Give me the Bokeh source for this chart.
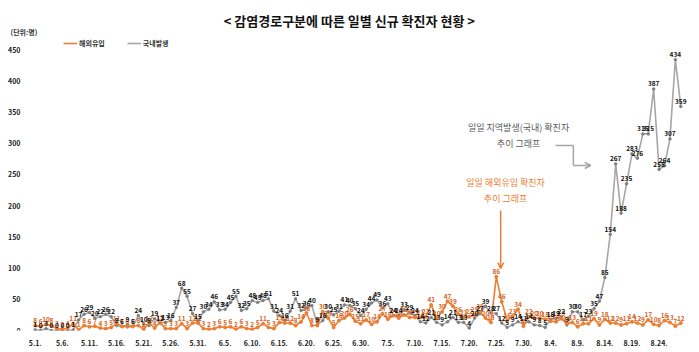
from bokeh.plotting import figure
from bokeh.models import (Range1d, FixedTicker, Label, Arrow, OpenHead, Legend,
                          LegendItem, ColumnDataSource)
from bokeh.core.properties import value
from bokeh.embed import file_html
from bokeh.resources import INLINE

# ---------------- data ----------------
# one value per day, 5.1. .. 8.28.
domestic = [
    # May
    1, 0, 3, 0, 0, 0, 0, 1, 17, 26, 29, 20, 22, 26, 22, 8, 6, 9, 6, 24,
    10, 8, 19, 12, 13, 16, 37, 68, 55, 27, 15,
    # June
    30, 34, 46, 33, 34, 45, 55, 32, 35, 48, 45, 48, 51, 31, 24, 16, 31, 51, 32, 36,
    40, 9, 16, 30, 25, 31, 41, 40, 35, 24,
    # July
    34, 44, 49, 36, 43, 24, 24, 33, 29, 24, 14, 12, 21, 13, 9, 14, 21, 13, 13, 4,
    20, 27, 39, 28, 27, 12, 5, 9, 14, 11, 14,
    # August
    9, 8, 5, 18, 19, 22, 9, 30, 30, 17, 23, 35, 47, 85, 154, 267, 188, 235, 283, 276,
    315, 315, 387, 258, 264, 307, 434, 359,
]
imported = [
    # May
    8, 6, 10, 8, 3, 2, 4, 11, 1, 8, 6, 7, 4, 3, 5, 11, 7, 6, 7, 8,
    2, 12, 4, 13, 3, 3, 3, 11, 3, 12, 12,
    # June
    3, 2, 3, 6, 5, 6, 2, 6, 3, 2, 5, 11, 5, 3, 13, 12, 12, 8, 14, 28,
    8, 8, 30, 20, 5, 16, 20, 26, 15, 11,
    # July
    17, 10, 14, 27, 18, 24, 20, 25, 21, 21, 21, 22, 41, 20, 30, 47, 39, 26, 21, 22,
    25, 30, 20, 13, 86, 46, 16, 23, 34, 7, 22,
    # August
    20, 20, 18, 15, 14, 19, 11, 13, 6, 11, 11, 19, 9, 18, 12, 12, 9, 11, 14, 12,
    9, 17, 10, 8, 16, 13, 7, 12,
]
day_index = list(range(len(domestic)))
tick_positions = list(range(0, 120, 5))
tick_labels = ["5.1.", "5.6.", "5.11.", "5.16.", "5.21.", "5.26.", "5.31.",
               "6.5.", "6.10.", "6.15.", "6.20.", "6.25.", "6.30.",
               "7.5.", "7.10.", "7.15.", "7.20.", "7.25.", "7.30.",
               "8.4.", "8.9.", "8.14.", "8.19.", "8.24."]
y_ticks = [0, 50, 100, 150, 200, 250, 300, 350, 400, 450]
series_names = ["해외유입", "국내발생"]

FONT = "Noto Sans CJK KR"
ORANGE = "#ED7D31"
ORANGE_TXT = "#D8641C"
GRAY = "#A6A6A6"

src = ColumnDataSource(dict(
    x=day_index,
    dom=domestic,
    imp=imported,
    dom_t=[str(v) for v in domestic],
    imp_t=[str(v) for v in imported],
))

# frame covers the whole width; the value axis is pinned inside it
p = figure(width=699, height=352, output_backend="svg", toolbar_location=None,
           x_range=Range1d(-6.4, 122.45), y_range=Range1d(0, 528.8),
           min_border_left=0, min_border_right=0, min_border_top=0,
           min_border_bottom=22, outline_line_color=None,
           background_fill_color="white", border_fill_color="white")
p.grid.visible = False

# axes
p.xaxis.ticker = FixedTicker(ticks=tick_positions)
p.xaxis.major_label_overrides = {t: l for t, l in zip(tick_positions, tick_labels)}
p.yaxis.ticker = FixedTicker(ticks=y_ticks)
p.yaxis.fixed_location = -0.5
for ax in (p.xaxis, p.yaxis):
    ax.axis_line_color = None
    ax.major_tick_line_color = None
    ax.minor_tick_line_color = None
    ax.major_label_text_font = FONT
    ax.major_label_text_font_size = "7px"
    ax.major_label_text_font_style = "bold"
    ax.major_label_text_color = "#222222"
p.xaxis.major_label_standoff = 3
p.yaxis.major_label_standoff = 6

# lines
gray_line = p.line("x", "dom", source=src, line_color=GRAY, line_width=1.6)
p.scatter("x", "dom", source=src, size=2.5, color="#7F7F7F")
orange_line = p.line("x", "imp", source=src, line_color=ORANGE, line_width=1.6)
p.scatter("x", "imp", source=src, size=3, color=ORANGE)

# data labels
p.text("x", "imp", text="imp_t", source=src, y_offset=-5, text_align="center",
       text_baseline="middle", text_font=value(FONT), text_font_size="6.5px",
       text_font_style="bold", text_color=ORANGE_TXT)
p.text("x", "dom", text="dom_t", source=src, y_offset=-5, text_align="center",
       text_baseline="middle", text_font=value(FONT), text_font_size="6.5px",
       text_font_style="bold", text_color="#111111")

# legend
legend = Legend(items=[LegendItem(label=series_names[0], renderers=[orange_line]),
                       LegendItem(label=series_names[1], renderers=[gray_line])],
                location=(63, 282), orientation="horizontal",
                background_fill_alpha=0, border_line_color=None,
                label_text_font=FONT, label_text_font_size="7px",
                label_text_font_style="bold", label_text_color="#333333",
                glyph_width=14, glyph_height=8, label_standoff=2, spacing=22,
                padding=0, margin=0, label_height=8)
p.add_layout(legend)

# title and unit
p.add_layout(Label(x=57.9, y=496.8, text="< 감염경로구분에 따른 일별 신규 확진자 현황 >",
                   text_align="center", text_baseline="middle", text_font=FONT,
                   text_font_size="13px", text_font_style="bold", text_color="#111111"))
p.add_layout(Label(x=-4.55, y=477.6, text="(단위:명)", text_align="left",
                   text_baseline="middle", text_font=FONT, text_font_size="7px",
                   text_font_style="bold", text_color="#333333"))

# annotations
for txt, yv in (("일일 지역발생(국내) 확진자", 325.3), ("추이 그래프", 299.7)):
    p.add_layout(Label(x=89.1, y=yv, text=txt, text_align="center",
                       text_baseline="middle", text_font=FONT, text_font_size="9px",
                       text_color="#595959"))
for txt, yv in (("일일 해외유입 확진자", 237.2), ("추이 그래프", 211.5)):
    p.add_layout(Label(x=86.7, y=yv, text=txt, text_align="center",
                       text_baseline="middle", text_font=FONT, text_font_size="9px",
                       text_color=ORANGE))

# gray connector with arrow
p.add_layout(Arrow(end=None, x_start=95.9, y_start=296.5, x_end=99.2, y_end=296.5,
                   line_color=GRAY, line_width=1.5))
p.add_layout(Arrow(end=None, x_start=99.2, y_start=296.5, x_end=99.2, y_end=264.4,
                   line_color=GRAY, line_width=1.5))
p.add_layout(Arrow(end=OpenHead(size=6, line_color=GRAY, line_width=1.5),
                   x_start=99.2, y_start=264.4, x_end=102.4, y_end=264.4,
                   line_color=GRAY, line_width=1.5))
# orange arrow
p.add_layout(Arrow(end=OpenHead(size=6, line_color=ORANGE, line_width=1.5),
                   x_start=85.8, y_start=192.3, x_end=85.8, y_end=99.4,
                   line_color=ORANGE, line_width=1.5))

open("out.html", "w").write(file_html(p, INLINE))
